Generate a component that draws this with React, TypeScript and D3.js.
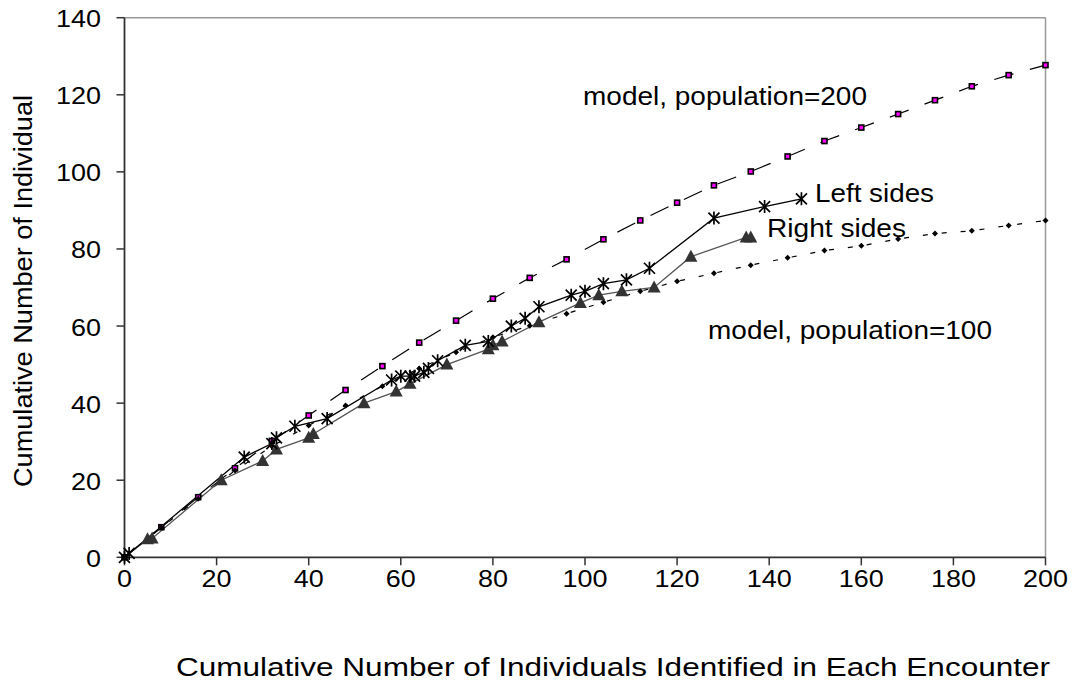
import React from "react";
import * as d3 from "d3";

const modelN = [0, 8, 16, 24, 32, 40, 48, 56, 64, 72, 80, 88, 96, 104, 112, 120, 128, 136, 144, 152, 160, 168, 176, 184, 192, 200];
const model200 = [0, 7.8, 15.6, 23.1, 30.2, 36.8, 43.4, 49.6, 55.7, 61.4, 67.1, 72.5, 77.3, 82.5, 87.4, 92.0, 96.5, 100.1, 104.0, 108.0, 111.5, 115.0, 118.6, 122.2, 125.1, 127.7];
const model100 = [0, 7.7, 15.2, 22.5, 28.8, 34.2, 39.4, 44.4, 49.0, 53.2, 57.1, 60.1, 63.2, 66.2, 69.0, 71.6, 73.7, 75.8, 77.7, 79.6, 80.8, 82.6, 84.0, 84.7, 86.1, 87.4];

const leftX = [0, 1, 26, 32, 33, 37, 44, 58, 60, 62, 63, 65, 66, 68, 74, 79, 84, 87, 90, 97, 100, 104, 109, 114, 128, 139, 147];
const leftY = [0, 1, 26, 29.5, 31, 34, 36, 46, 47, 47, 47, 48, 49, 51, 55, 56, 60, 62, 65, 68, 69, 71, 72, 75, 88, 91, 93];

const rightX = [0, 5, 6, 21, 30, 33, 40, 41, 52, 59, 62, 70, 79, 80, 82, 90, 99, 103, 108, 115, 123, 135, 136];
const rightY = [0, 4.7, 4.9, 20, 25, 28, 31, 32, 40, 43, 45, 50, 54, 55, 56, 61, 66, 68, 69, 70, 78, 83, 83];

const xTicks = [0, 20, 40, 60, 80, 100, 120, 140, 160, 180, 200];
const yTicks = [0, 20, 40, 60, 80, 100, 120, 140];

const FONT = "'Liberation Sans', Arial, sans-serif";

export default function App() {
  const W = 1078, H = 683;
  const x0 = 124.5, x1 = 1045.5, y0 = 557.3, y1 = 17.7;
  const x = d3.scaleLinear().domain([0, 200]).range([x0, x1]);
  const y = d3.scaleLinear().domain([0, 140]).range([y0, y1]);

  const line = d3.line<[number, number]>().x(d => x(d[0])).y(d => y(d[1]));
  const m200 = modelN.map((n, i) => [n, model200[i]] as [number, number]);
  const m100 = modelN.map((n, i) => [n, model100[i]] as [number, number]);
  const left = leftX.map((n, i) => [n, leftY[i]] as [number, number]);
  const right = rightX.map((n, i) => [n, rightY[i]] as [number, number]);

  const tl = (t: number) => String(t).length * 15;

  return (
    <svg width={W} height={H} style={{ position: "absolute", left: 0, top: 0, background: "#fff" }} fontFamily={FONT}>
      <rect x={0} y={0} width={W} height={H} fill="#fff" />
      {/* plot frame */}
      <line x1={x0} y1={y1} x2={x1} y2={y1} stroke="#999" strokeWidth={1.5} />
      <line x1={x1} y1={y1} x2={x1} y2={y0} stroke="#999" strokeWidth={1.5} />
      <line x1={x0} y1={y1} x2={x0} y2={y0} stroke="#333" strokeWidth={1.8} />
      <line x1={x0} y1={y0} x2={x1} y2={y0} stroke="#333" strokeWidth={1.8} />
      {yTicks.map(t => (
        <g key={"y" + t}>
          <line x1={x0 - 8} x2={x0} y1={y(t)} y2={y(t)} stroke="#333" strokeWidth={1.5} />
          <text x={101} y={y(t) + 9.5} fontSize={24} textAnchor="end" fill="#000" textLength={tl(t)} lengthAdjust="spacingAndGlyphs">{t}</text>
        </g>
      ))}
      {xTicks.map(t => (
        <g key={"x" + t}>
          <line x1={x(t)} x2={x(t)} y1={y0} y2={y0 + 8} stroke="#333" strokeWidth={1.5} />
          <text x={x(t)} y={587} fontSize={24} textAnchor="middle" fill="#000" textLength={tl(t)} lengthAdjust="spacingAndGlyphs">{t}</text>
        </g>
      ))}
      {/* model lines */}
      <path d={line(m200) || ""} fill="none" stroke="#000" strokeWidth={1.2} strokeDasharray="20,17" />
      <path d={line(m100) || ""} fill="none" stroke="#000" strokeWidth={1.2} strokeDasharray="5,14" />
      {/* data lines */}
      <path d={line(right) || ""} fill="none" stroke="#555" strokeWidth={1.3} />
      <path d={line(left) || ""} fill="none" stroke="#000" strokeWidth={1.3} />
      {/* markers */}
      {m200.map((d, i) => (
        <rect key={"s" + i} x={x(d[0]) - 2.5} y={y(d[1]) - 2.5} width={5} height={5} fill="#ff00ff" stroke="#000" strokeWidth={1.6} />
      ))}
      {m100.map((d, i) => (
        <path key={"d" + i} transform={`translate(${x(d[0])},${y(d[1])})`} d="M0,-3L3,0L0,3L-3,0Z" fill="#000" />
      ))}
      {right.slice(1).map((d, i) => (
        <path key={"t" + i} transform={`translate(${x(d[0])},${y(d[1])})`} d="M0,-7L6.5,5L-6.5,5Z" fill="#333" />
      ))}
      {left.map((d, i) => (
        <path key={"a" + i} transform={`translate(${x(d[0])},${y(d[1])})`} d="M-5.5,-5.5L5.5,5.5M-5.5,5.5L5.5,-5.5M0,-6.5L0,6.5" stroke="#000" strokeWidth={1.7} fill="none" />
      ))}
      {/* labels */}
      <text x={583} y={105} fontSize={26} fill="#000" textLength={284} lengthAdjust="spacingAndGlyphs">model, population=200</text>
      <text x={815} y={201.5} fontSize={26} fill="#000" textLength={119} lengthAdjust="spacingAndGlyphs">Left sides</text>
      <text x={767} y={237} fontSize={26} fill="#000" textLength={139} lengthAdjust="spacingAndGlyphs">Right sides</text>
      <text x={708} y={339} fontSize={26} fill="#000" textLength={284} lengthAdjust="spacingAndGlyphs">model, population=100</text>
      {/* axis titles */}
      <text x={613} y={676} fontSize={25} textAnchor="middle" fill="#000" textLength={874} lengthAdjust="spacingAndGlyphs">Cumulative Number of Individuals Identified in Each Encounter</text>
      <text transform="translate(31.5,291) rotate(-90)" fontSize={25} textAnchor="middle" fill="#000" textLength={392} lengthAdjust="spacingAndGlyphs">Cumulative Number of Individual</text>
    </svg>
  );
}
